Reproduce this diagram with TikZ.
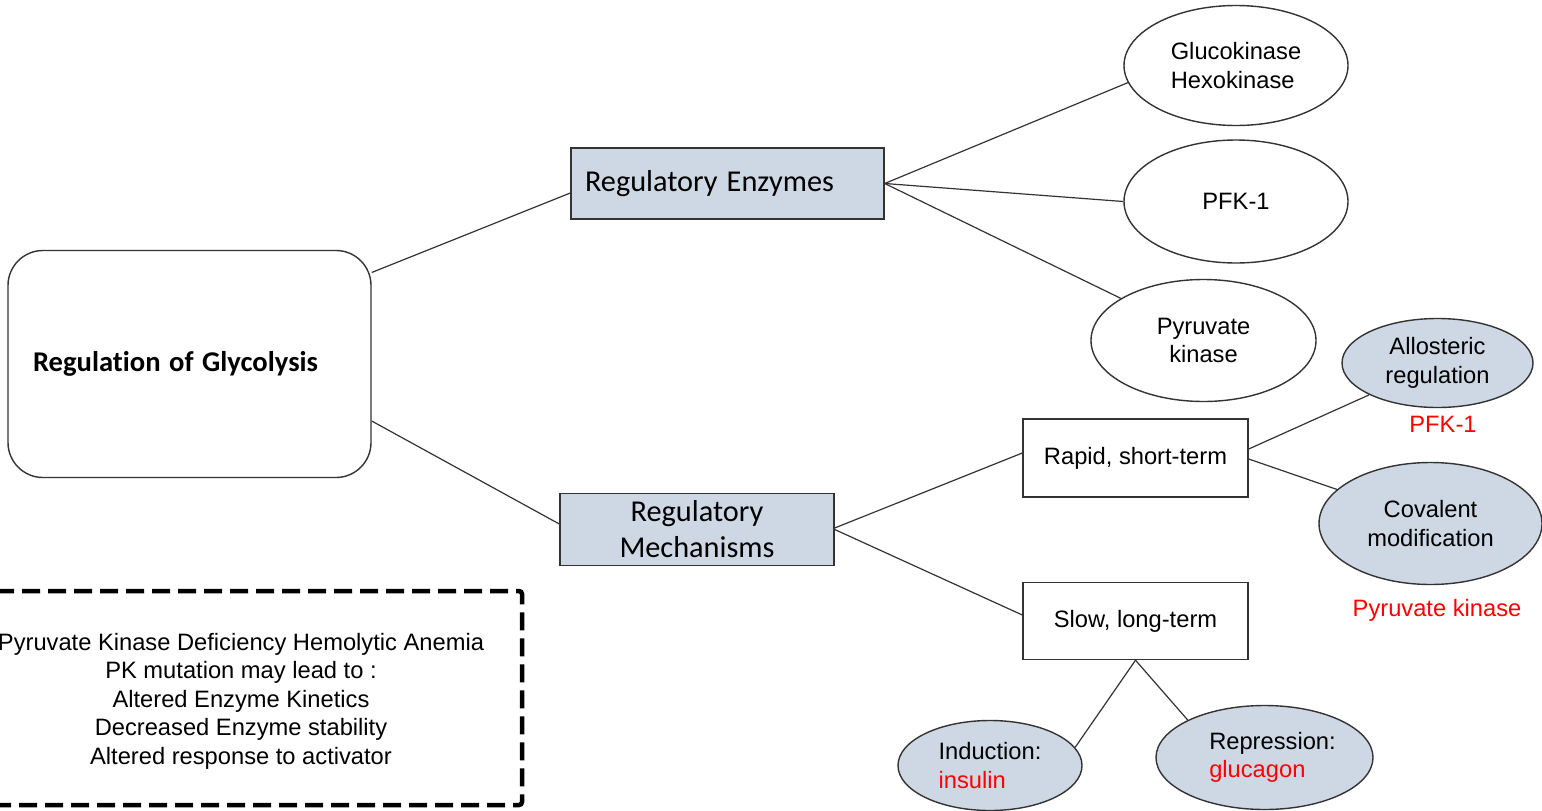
\documentclass[tikz,border=0pt]{standalone}
\usepackage{fontspec}
\setmainfont{Liberation Sans}
\newfontfamily\calibri[Ligatures={NoCommon}]{Carlito}
\newcommand{\csp}{\kern0.3em}
\usetikzlibrary{shapes.geometric}
\definecolor{boxfill}{HTML}{CDD8E4}
\definecolor{edge}{HTML}{333333}
\begin{document}
\begin{tikzpicture}[x=1pt,y=1pt,
  every node/.style={font=\fontsize{23.7}{28.5}\selectfont},
  conn/.style={draw=edge, line width=1.2pt},
  sq/.style={draw=edge, line width=1.4pt, rectangle, inner sep=0pt},
  ell/.style={draw=edge, line width=1.4pt, ellipse, inner sep=0pt, align=center},
  bluefill/.style={fill=boxfill},
  redtxt/.style={text=red}]
\useasboundingbox (0,0) rectangle (1542,-811);
% main box
\node[sq, rounded corners=35pt, minimum width=363pt, minimum height=227pt, text width=313pt, inner xsep=25pt, align=left, font=\calibri\bfseries\fontsize{28.6}{34}\selectfont] (main) at (189.5,-364) {Regulation\csp of\csp Glycolysis};
% level 1
\node[sq, bluefill, minimum width=313pt, minimum height=71pt, text width=285pt, inner xsep=14pt, align=left, font=\calibri\fontsize{30.3}{36}\selectfont] (re) at (727.5,-183.5) {Regulatory\csp Enzymes};
\node[sq, bluefill, minimum width=274pt, minimum height=72pt, align=center, font=\calibri\fontsize{30.3}{36}\selectfont] (rm) at (697,-529.5) {Regulatory\\Mechanisms};
% enzymes
\node[ell, minimum width=224pt, minimum height=120pt, align=left] (gk) at (1236,-65.5) {Glucokinase\\Hexokinase};
\node[ell, minimum width=224pt, minimum height=123pt] (pfk) at (1236,-201.5) {PFK-1};
\node[ell, minimum width=225pt, minimum height=122pt] (pyk) at (1203.5,-340.5) {Pyruvate\\kinase};
% mechanisms
\node[sq, minimum width=225pt, minimum height=78pt] (rapid) at (1135.5,-458) {Rapid, short-term};
\node[sq, minimum width=225pt, minimum height=77pt] (slow) at (1135.5,-621) {Slow, long-term};
\node[ell, bluefill, minimum width=191pt, minimum height=89pt] (allo) at (1437.5,-363) {Allosteric\\regulation};
\node[ell, bluefill, minimum width=223pt, minimum height=122pt] (cov) at (1430.5,-523.5) {Covalent\\modification};
\node[redtxt] (pfklab) at (1443,-424) {PFK-1};
\node[redtxt] (pklab) at (1437,-610) {Pyruvate kinase};
\node[ell, bluefill, minimum width=184pt, minimum height=90pt, align=left] (ind) at (990,-765.5) {Induction:\\\textcolor{red}{insulin}};
\node[ell, bluefill, minimum width=217pt, minimum height=104pt, align=left] (rep) at (1264.5,-757.5) {\hspace*{16pt}Repression:\\\hspace*{16pt}\textcolor{red}{glucagon}};
% note box
\node[align=center] (pkd) at (241,-701) {Pyruvate Kinase Deficiency Hemolytic Anemia\\PK mutation may lead to :\\Altered Enzyme Kinetics\\Decreased Enzyme stability\\Altered response to activator};
\draw[black, line width=4.5pt, dash pattern=on 18pt off 8pt, rounded corners=3pt] (-30,-591) -- (522,-591) -- (522,-805) -- (-30,-805);
% connectors
\draw[conn] ([yshift=91.5pt]main.east) -- ([yshift=-9.5pt]re.west);
\draw[conn] ([yshift=-57pt]main.east) -- ([yshift=5.5pt]rm.west);
\draw[conn] (re.east) -- (gk.189);
\draw[conn] (re.east) -- (pfk.west);
\draw[conn] (re.east) -- (pyk.153);
\draw[conn] ([yshift=1.5pt]rm.east) -- ([yshift=5pt]rapid.west);
\draw[conn] (rm.east) -- ([yshift=6pt]slow.west);
\draw[conn] ([yshift=9pt]rapid.east) -- (allo.205);
\draw[conn] ([yshift=-1pt]rapid.east) -- (cov.160);
\draw[conn] (slow.south) -- (ind.12);
\draw[conn] (slow.south) -- (rep.154);
\end{tikzpicture}
\end{document}
